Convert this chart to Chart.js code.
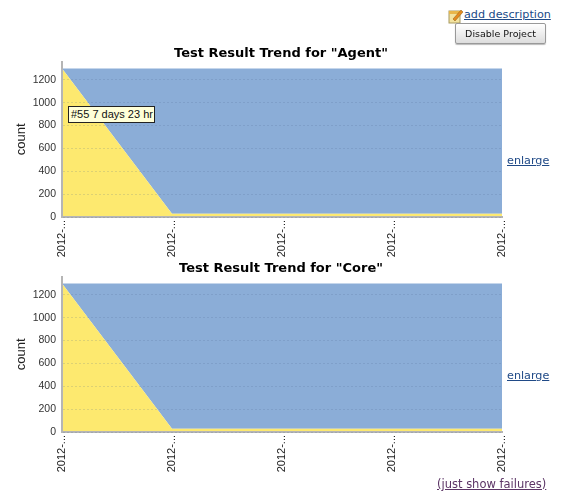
<!DOCTYPE html>
<html>
<head>
<meta charset="utf-8">
<script src="https://cdn.jsdelivr.net/npm/chart.js@4"></script>
<style>
html, body { margin: 0; padding: 0; background: #fff; width: 562px; height: 494px; overflow: hidden; }
canvas { position: absolute; left: 0; }
a, .btn, .tip { position: absolute; white-space: nowrap; }
a { font: 11.2px "DejaVu Sans", sans-serif; color: #204a87; text-decoration: underline; }
.btn { left: 455px; top: 23px; width: 91px; height: 21px; box-sizing: border-box; border: 1px solid #999; border-radius: 2px;
  background: linear-gradient(#fff, #ddd); font: 9.5px/19px "DejaVu Sans", sans-serif; text-align: center; color: #111; box-shadow: 0 1px 1px #bbb; }
.tip { left: 68px; top: 106px; width: 87px; height: 17px; box-sizing: border-box; border: 1px solid #222; background: #ffffd8;
  font: 11px/15px "Liberation Sans", sans-serif; color: #111; padding-left: 2px; }
svg { position: absolute; left: 448px; top: 8px; }
</style>
</head>
<body>
<canvas id="chartAgent" style="top:44px"></canvas>
<canvas id="chartCore" style="top:259px"></canvas>
<svg width="16" height="16" viewBox="0 0 16 16">
  <rect x="1" y="3" width="11" height="12" fill="#f3e3a0" stroke="#a89a60"/>
  <rect x="1" y="3" width="11" height="3" fill="#e8b64a"/>
  <path d="M5 11 L13 2 L15 4 L7 13 Z" fill="#e58a1f" stroke="#8a5a10" stroke-width="0.5"/>
</svg>
<a style="left:464px; top:8px">add description</a>
<div class="btn">Disable Project</div>
<a style="left:507px; top:154px">enlarge</a>
<a style="left:507px; top:369px">enlarge</a>
<a style="left:437px; top:477px; font-size:11.5px; color:#5c3566">(just show failures)</a>
<div class="tip">#55 7 days 23 hr</div>
<script>
var buildLabels = ['2012-...', '2012-...', '2012-...', '2012-...', '2012-...'];
var agentPassed = [1300, 28, 28, 28, 28];
var agentSkipped = [0, 1272, 1272, 1272, 1272];
var corePassed = [1300, 28, 28, 28, 28];
var coreSkipped = [0, 1272, 1272, 1272, 1272];
var yTicks = [0, 200, 400, 600, 800, 1000, 1200];

function trendChart(id, title, yellowData, blueData) {
  var el = document.getElementById(id);
  el.width = 562;
  el.height = 218;
  return new Chart(el.getContext('2d'), {
    type: 'line',
    data: {
      labels: buildLabels,
      datasets: [
        { data: yellowData, backgroundColor: '#fde96f', borderWidth: 0, fill: 'origin', pointRadius: 0, tension: 0 },
        { data: blueData, backgroundColor: '#8badd7', borderWidth: 0, fill: '-1', pointRadius: 0, tension: 0 }
      ]
    },
    options: {
      responsive: false,
      animation: false,
      plugins: {
        legend: { display: false },
        tooltip: { enabled: false },
        title: {
          display: true,
          text: title,
          color: '#000',
          font: { family: 'DejaVu Sans', size: 13, weight: 'bold' },
          padding: { top: 2, bottom: 0 }
        }
      },
      scales: {
        x: {
          offset: false,
          grid: { drawTicks: false, color: 'rgba(0,0,0,0)' },
          border: { color: '#b5b5b5', width: 2, z: 1 },
          ticks: {
            autoSkip: false, minRotation: 90, maxRotation: 90, padding: 3, color: '#222',
            font: { family: 'Liberation Sans', size: 11 }
          },
          afterFit: function (axis) { axis.height = 45; }
        },
        y: {
          stacked: true,
          min: 0,
          max: 1360,
          title: {
            display: true, text: 'count', color: '#222', padding: { top: 14, bottom: 0 },
            font: { family: 'Liberation Sans', size: 13 }
          },
          grid: { z: 1, drawTicks: false, color: 'rgba(70,100,140,0.18)', lineWidth: 1 },
          border: { color: '#b5b5b5', width: 2, dash: [2, 2], z: 1 },
          ticks: {
            padding: 6, color: '#333',
            font: { family: 'Liberation Sans', size: 10.5 },
            callback: function (v) { return String(v); }
          },
          afterBuildTicks: function (axis) {
            axis.ticks = yTicks.map(function (v) { return { value: v }; });
          },
          afterFit: function (axis) { axis.width = 62; }
        },
        // empty axis that only keeps the room for the "enlarge" links
        margin: {
          position: 'right',
          grid: { display: false },
          border: { display: false },
          ticks: { display: false },
          afterFit: function (axis) { axis.width = 60; }
        }
      }
    }
  });
}

trendChart('chartAgent', 'Test Result Trend for "Agent"', agentPassed, agentSkipped);
trendChart('chartCore', 'Test Result Trend for "Core"', corePassed, coreSkipped);
</script>
</body>
</html>
